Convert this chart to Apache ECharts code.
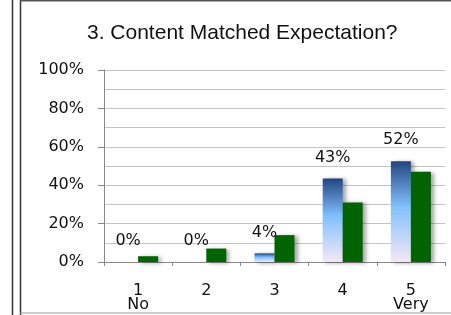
<!DOCTYPE html>
<html>
<head>
<meta charset="utf-8">
<script src="https://cdn.jsdelivr.net/npm/echarts@6/dist/echarts.min.js"></script>
<style>
    html, body { margin: 0; padding: 0; background: #fff; }
    #chart { width: 451px; height: 315px; }
</style>
</head>
<body>
<div id="chart"></div>
<script>
    // categories (1 = No ... 5 = Very)
    var categories = ['1\nNo', '2', '3', '4', '5\nVery'];
    // blue series, percent (labelled)
    var blueValues = [0, 0, 4.5, 43.5, 52.5];
    var blueLabels = ['0%', '0%', '4%', '43%', '52%'];
    // green series, percent
    var greenValues = [3, 7, 14, 31, 47];
    var yTicks = [0, 20, 40, 60, 80, 100];

    var chart = echarts.init(document.getElementById('chart'));

    var shadow = {
        shadowColor: 'rgba(0,0,0,0.35)',
        shadowBlur: 4,
        shadowOffsetX: 3,
        shadowOffsetY: 1
    };

    var option = {
        animation: false,
        title: {
            text: '3. Content Matched Expectation?',
            left: 82,
            top: 18,
            textStyle: {
                fontFamily: 'Liberation Sans',
                fontWeight: 'normal',
                fontSize: 21,
                color: '#111'
            }
        },
        grid: { left: 104, right: 6, top: 70, bottom: 53 },
        xAxis: {
            type: 'category',
            data: categories,
            axisLine: { lineStyle: { color: '#888', width: 1 } },
            axisTick: { show: true, length: 4, lineStyle: { color: '#888' } },
            axisLabel: {
                margin: 22,
                fontFamily: 'DejaVu Sans',
                fontSize: 16,
                lineHeight: 14,
                color: '#111'
            }
        },
        yAxis: {
            type: 'value',
            min: yTicks[0],
            max: yTicks[yTicks.length - 1],
            interval: 20,
            axisLine: { show: true, lineStyle: { color: '#888' } },
            axisTick: { show: true, length: 6, lineStyle: { color: '#888' } },
            axisLabel: {
                margin: 20,
                fontFamily: 'DejaVu Sans',
                fontSize: 16,
                color: '#111',
                formatter: '{value}%'
            },
            splitLine: { lineStyle: { color: '#c4c4c4' } },
            minorTick: { show: false, splitNumber: 2 },
            minorSplitLine: { show: true, lineStyle: { color: '#c4c4c4' } }
        },
        series: [
            {
                name: 'blue',
                type: 'bar',
                data: blueValues,
                barWidth: 20,
                barGap: '0%',
                itemStyle: Object.assign({
                    color: new echarts.graphic.LinearGradient(0, 0, 0, 1, [
                        { offset: 0, color: '#23457f' },
                        { offset: 0.45, color: '#80c0ff' },
                        { offset: 1, color: '#f6e8f4' }
                    ])
                }, shadow),
                label: {
                    show: true,
                    position: 'top',
                    distance: 13,
                    fontFamily: 'DejaVu Sans',
                    fontSize: 16,
                    color: '#111',
                    formatter: function (p) { return blueLabels[p.dataIndex]; }
                }
            },
            {
                name: 'green',
                type: 'bar',
                data: greenValues,
                barWidth: 20,
                itemStyle: Object.assign({ color: '#006400' }, shadow)
            }
        ],
        graphic: [
            { type: 'line', shape: { x1: 12.5, y1: 0, x2: 12.5, y2: 315 }, style: { stroke: '#333', lineWidth: 1.5 } },
            { type: 'line', shape: { x1: 20.5, y1: 0, x2: 20.5, y2: 315 }, style: { stroke: '#333', lineWidth: 1.5 } },
            { type: 'line', shape: { x1: 20, y1: 0.5, x2: 451, y2: 0.5 }, style: { stroke: '#555', lineWidth: 2 } },
            { type: 'line', shape: { x1: 20, y1: 313, x2: 451, y2: 313 }, style: { stroke: '#999', lineWidth: 1 } }
        ]
    };

    chart.setOption(option);
</script>
</body>
</html>
